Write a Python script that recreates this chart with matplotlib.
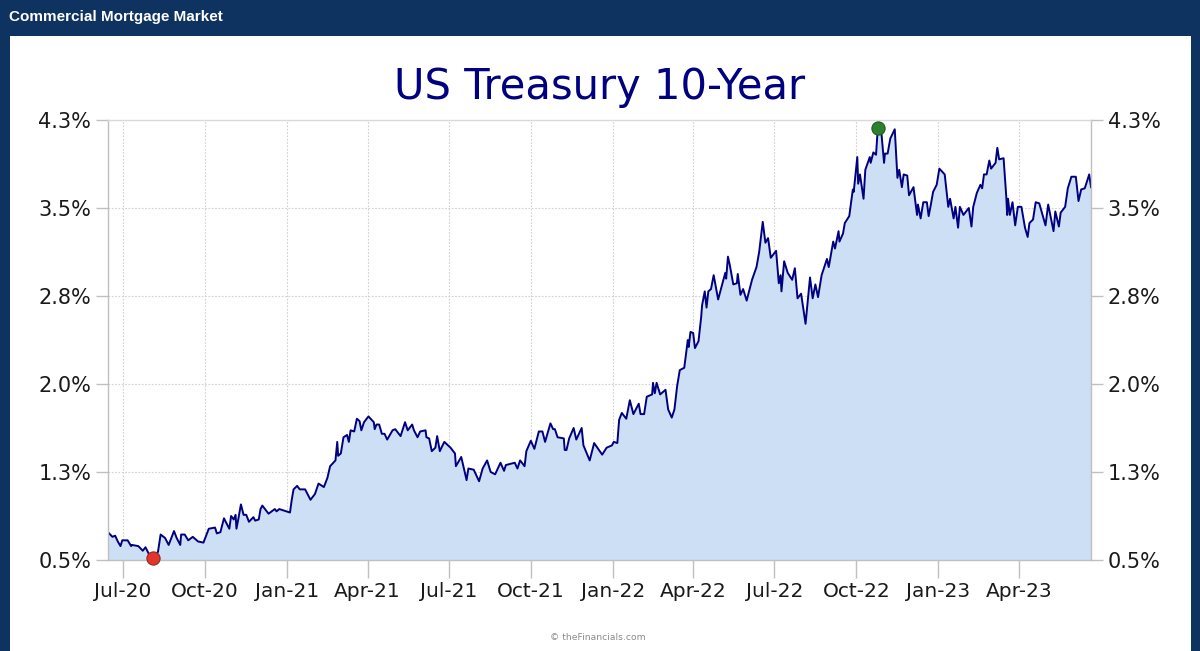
import numpy as np
import pandas as pd
import matplotlib
matplotlib.use("Agg")
import matplotlib.pyplot as plt
from matplotlib.patches import Rectangle

# days after 2020-07-01 and 10-year yield (%)
days = [
    -17, -12, -9, -6, -3, -1, 5, 9, 10, 17, 22, 25,
    29, 34, 39, 42, 47, 51, 53, 57, 60, 64, 65, 69,
    73, 78, 84, 90, 96, 103, 105, 109, 113, 119, 121, 124,
    126, 127, 129, 132, 135, 138, 141, 146, 148, 152, 154, 156,
    163, 170, 172, 175, 187, 189, 191, 195, 198, 204, 210, 215,
    219, 225, 229, 232, 238, 240, 241, 244, 247, 251, 253, 255,
    259, 262, 265, 267, 270, 275, 281, 282, 284, 287, 290, 293,
    296, 302, 305, 311, 316, 319, 324, 326, 330, 333, 339, 340,
    343, 346, 350, 352, 355, 360, 367, 372, 373, 379, 385, 387,
    393, 399, 403, 408, 412, 417, 423, 427, 429, 439, 442, 445,
    450, 452, 457, 461, 466, 470, 473, 479, 482, 484, 487, 494,
    495, 497, 500, 505, 508, 514, 516, 523, 528, 537, 542, 548,
    550, 554, 556, 559, 564, 568, 572, 578, 580, 584, 587, 593,
    594, 596, 598, 602, 608, 611, 615, 618, 621, 624, 629, 633,
    634, 636, 639, 641, 645, 648, 649, 652, 654, 656, 659, 662,
    667, 675, 676, 678, 680, 684, 688, 689, 692, 695, 699, 705,
    710, 713, 717, 720, 723, 726, 732, 735, 737, 738, 741, 745,
    750, 753, 756, 760, 765, 767, 770, 773, 776, 779, 783, 789,
    791, 796, 798, 802, 803, 807, 809, 814, 818, 819, 823, 824,
    826, 830, 832, 837, 838, 841, 844, 846, 850, 853, 854, 857,
    860, 865, 868, 870, 873, 875, 879, 881, 886, 890, 891, 894,
    897, 901, 903, 905, 908, 912, 915, 921, 925, 927, 931, 933,
    936, 938, 942, 945, 948, 951, 953, 957, 961, 963, 965, 968,
    971, 973, 978, 980, 982, 987, 990, 991, 992, 994, 997, 1000,
    1003, 1007, 1011, 1014, 1016, 1020, 1023, 1027, 1034, 1037, 1043, 1045,
    1049, 1051, 1056, 1059, 1063, 1068, 1071, 1074, 1078, 1083, 1085,
]
yields = [
    0.74, 0.70, 0.71, 0.66, 0.62, 0.67, 0.67, 0.62, 0.63, 0.62, 0.58, 0.61,
    0.55, 0.52, 0.57, 0.72, 0.69, 0.63, 0.67, 0.75, 0.69, 0.63, 0.72, 0.72,
    0.67, 0.70, 0.66, 0.65, 0.77, 0.78, 0.73, 0.74, 0.86, 0.77, 0.88, 0.85,
    0.89, 0.77, 0.85, 0.98, 0.89, 0.89, 0.83, 0.87, 0.84, 0.85, 0.94, 0.97,
    0.90, 0.94, 0.92, 0.94, 0.91, 1.02, 1.11, 1.14, 1.11, 1.11, 1.02, 1.07,
    1.16, 1.13, 1.21, 1.31, 1.36, 1.52, 1.40, 1.42, 1.56, 1.58, 1.52, 1.62,
    1.61, 1.72, 1.70, 1.62, 1.69, 1.74, 1.69, 1.63, 1.67, 1.67, 1.59, 1.59,
    1.54, 1.62, 1.63, 1.57, 1.69, 1.62, 1.67, 1.62, 1.56, 1.61, 1.62, 1.56,
    1.55, 1.44, 1.47, 1.57, 1.44, 1.52, 1.47, 1.42, 1.31, 1.39, 1.19, 1.29,
    1.28, 1.18, 1.29, 1.36, 1.26, 1.24, 1.34, 1.27, 1.32, 1.34, 1.29, 1.36,
    1.31, 1.44, 1.53, 1.46, 1.61, 1.61, 1.52, 1.68, 1.63, 1.63, 1.56, 1.55,
    1.45, 1.45, 1.55, 1.64, 1.54, 1.64, 1.49, 1.36, 1.51, 1.41, 1.47, 1.49,
    1.52, 1.51, 1.71, 1.77, 1.72, 1.88, 1.76, 1.85, 1.76, 1.76, 1.91, 1.93,
    2.03, 1.94, 2.03, 1.93, 1.97, 1.80, 1.73, 1.80, 2.00, 2.14, 2.16, 2.40,
    2.34, 2.47, 2.46, 2.33, 2.39, 2.60, 2.70, 2.82, 2.68, 2.82, 2.84, 2.96,
    2.75, 2.98, 2.93, 3.12, 3.05, 2.88, 2.89, 2.97, 2.79, 2.84, 2.74, 2.92,
    3.03, 3.16, 3.42, 3.24, 3.28, 3.11, 3.17, 2.89, 2.96, 2.82, 3.08, 2.98,
    2.92, 3.02, 2.76, 2.80, 2.54, 2.70, 2.94, 2.76, 2.88, 2.77, 2.96, 3.10,
    3.03, 3.25, 3.19, 3.34, 3.25, 3.32, 3.41, 3.47, 3.70, 3.68, 3.98, 3.75,
    3.83, 3.62, 3.87, 3.98, 3.93, 4.02, 4.00, 4.23, 4.19, 3.93, 4.01, 4.01,
    4.14, 4.22, 3.80, 3.87, 3.72, 3.83, 3.82, 3.65, 3.72, 3.48, 3.57, 3.45,
    3.59, 3.59, 3.47, 3.55, 3.68, 3.74, 3.88, 3.83, 3.55, 3.62, 3.45, 3.55,
    3.37, 3.55, 3.48, 3.51, 3.54, 3.38, 3.55, 3.67, 3.74, 3.71, 3.83, 3.83,
    3.95, 3.88, 3.93, 4.06, 3.96, 3.97, 3.64, 3.48, 3.62, 3.48, 3.59, 3.39,
    3.55, 3.55, 3.37, 3.29, 3.41, 3.44, 3.59, 3.58, 3.39, 3.57, 3.34, 3.51,
    3.38, 3.50, 3.55, 3.71, 3.81, 3.81, 3.60, 3.70, 3.71, 3.83, 3.72,
]

y_ticks = [0.5, 1.26, 2.02, 2.78, 3.54, 4.3]
y_labels = ["0.5%", "1.3%", "2.0%", "2.8%", "3.5%", "4.3%"]
x_ticks = ["2020-07-01", "2020-10-01", "2021-01-01", "2021-04-01", "2021-07-01", "2021-10-01",
           "2022-01-01", "2022-04-01", "2022-07-01", "2022-10-01", "2023-01-01", "2023-04-01"]

NAVY = "#000080"
FRAME = "#0F3360"
GREY = "#BFBFBF"
W, H = 1200, 651

dates = pd.Timestamp("2020-07-01") + pd.to_timedelta(days, unit="D")
values = np.array(yields)
tick_dates = pd.to_datetime(x_ticks)

fig = plt.figure(figsize=(W / 100, H / 100), dpi=100, facecolor=FRAME)
fig.add_artist(Rectangle((10 / W, 0), 1181 / W, 615 / H, transform=fig.transFigure,
                         facecolor="white", edgecolor="none", zorder=-1))
fig.text(9 / W, 1 - 17 / H, "Commercial Mortgage Market", color="white", fontsize=11,
         fontweight="bold", family="Liberation Sans", va="center")
fig.text(600 / W, 1 - 87 / H, "US Treasury 10-Year", color=NAVY, fontsize=30, ha="center", va="center")
fig.text(598 / W, 1 - 637 / H, "© theFinancials.com", color="#8C8C8C", fontsize=6.7, ha="center", va="center")

ax = fig.add_axes([108 / W, (H - 560) / H, 983 / W, 440 / H], facecolor="white")
ax.fill_between(dates, values, 0.5, color="#CCDFF4", linewidth=0, zorder=2)
ax.plot(dates, values, color=NAVY, linewidth=1.4, zorder=3)

# low and high markers
i_low, i_high = values.argmin(), values.argmax()
ax.plot(dates[i_low], values[i_low], "o", ms=9.5, mfc="#E5352B", mec="#8E2A2A", mew=0.8, clip_on=False, zorder=5)
ax.plot(dates[i_high], values[i_high], "o", ms=9.5, mfc="#2E8031", mec="#1F5A24", mew=0.8, clip_on=False, zorder=5)

ax.set_xlim(pd.Timestamp("2020-07-01") - pd.Timedelta(days=17), pd.Timestamp("2020-07-01") + pd.Timedelta(days=1085))
ax.set_ylim(0.5, 4.3)
ax.set_xticks(tick_dates)
ax.set_xticklabels([d.strftime("%b-%y") for d in tick_dates])
ax.set_yticks(y_ticks)
ax.set_yticklabels(y_labels)
ax.grid(True, color="#D0D0D0", linestyle=(0, (1.5, 1.5)), linewidth=0.8, zorder=1)
ax.set_axisbelow(True)

ax.tick_params(axis="x", length=13, width=1, color=GREY, labelsize=14.5, labelcolor="#1A1A1A", pad=3)
ax.tick_params(axis="y", length=8.5, width=1, color=GREY, labelsize=15, labelcolor="#1A1A1A", pad=3.5)
for s in ax.spines.values():
    s.set_color(GREY)
    s.set_linewidth(1)
    s.set_zorder(4)
ax.spines["top"].set_color("#D9D9D9")

ax2 = ax.twinx()
ax2.set_ylim(0.5, 4.3)
ax2.set_yticks(y_ticks)
ax2.set_yticklabels(y_labels)
ax2.tick_params(axis="y", length=8.5, width=1, color=GREY, labelsize=15, labelcolor="#1A1A1A", pad=3.5)
for s in ax2.spines.values():
    s.set_visible(False)

fig.savefig("out.png", dpi=100, facecolor=FRAME)
